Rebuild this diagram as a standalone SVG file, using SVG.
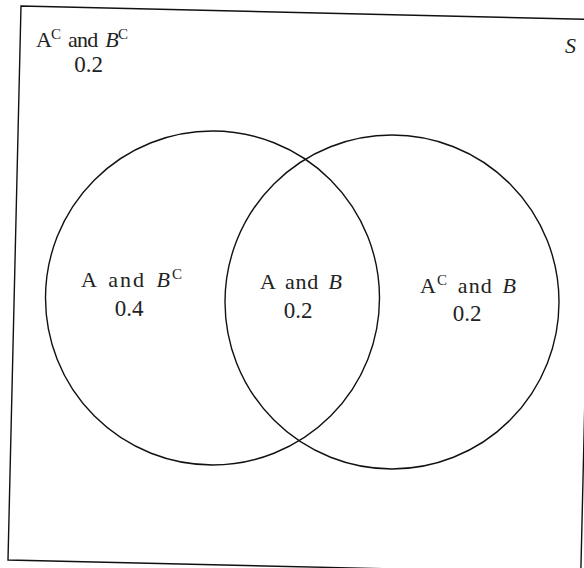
<svg xmlns="http://www.w3.org/2000/svg" width="584" height="568" viewBox="0 0 584 568">
  <style>
    .edge { fill: none; stroke: #111; stroke-width: 1.4; }
    .lbl { font-family: "Liberation Serif", "Times New Roman", serif; font-size: 22px; fill: #222; word-spacing: 3px; }
    .num { font-family: "Liberation Serif", "Times New Roman", serif; font-size: 23px; fill: #222; text-anchor: middle; }
    .it { font-style: italic; }
    .sup { font-size: 15px; }
  </style>
  <rect width="584" height="568" fill="#fff"/>
  <g id="sample-space">
    <polygon class="edge" points="21,6 593.8,19.5 580.8,573.3 8,560"/>
    <text class="lbl it" x="565" y="53">S</text>
  </g>
  <g id="circle-A">
    <circle class="edge" cx="212.5" cy="298" r="167"/>
  </g>
  <g id="circle-B">
    <circle class="edge" cx="392" cy="302" r="167"/>
  </g>
  <g id="region-neither">
    <text class="lbl" x="36" y="47" textLength="92">A<tspan class="sup" dy="-8">C</tspan><tspan dy="8"> and </tspan><tspan class="it">B</tspan><tspan class="sup" dy="-8">C</tspan></text>
    <text class="num" x="88.5" y="72">0.2</text>
  </g>
  <g id="region-A-only">
    <text class="lbl" x="81" y="287" textLength="101">A and <tspan class="it">B</tspan><tspan class="sup" dy="-8">C</tspan></text>
    <text class="num" x="129" y="316">0.4</text>
  </g>
  <g id="region-A-and-B">
    <text class="lbl" x="260" y="289" textLength="82">A and <tspan class="it">B</tspan></text>
    <text class="num" x="298" y="318">0.2</text>
  </g>
  <g id="region-B-only">
    <text class="lbl" x="420" y="293" textLength="96">A<tspan class="sup" dy="-8">C</tspan><tspan dy="8"> and </tspan><tspan class="it">B</tspan></text>
    <text class="num" x="467" y="321">0.2</text>
  </g>
</svg>
